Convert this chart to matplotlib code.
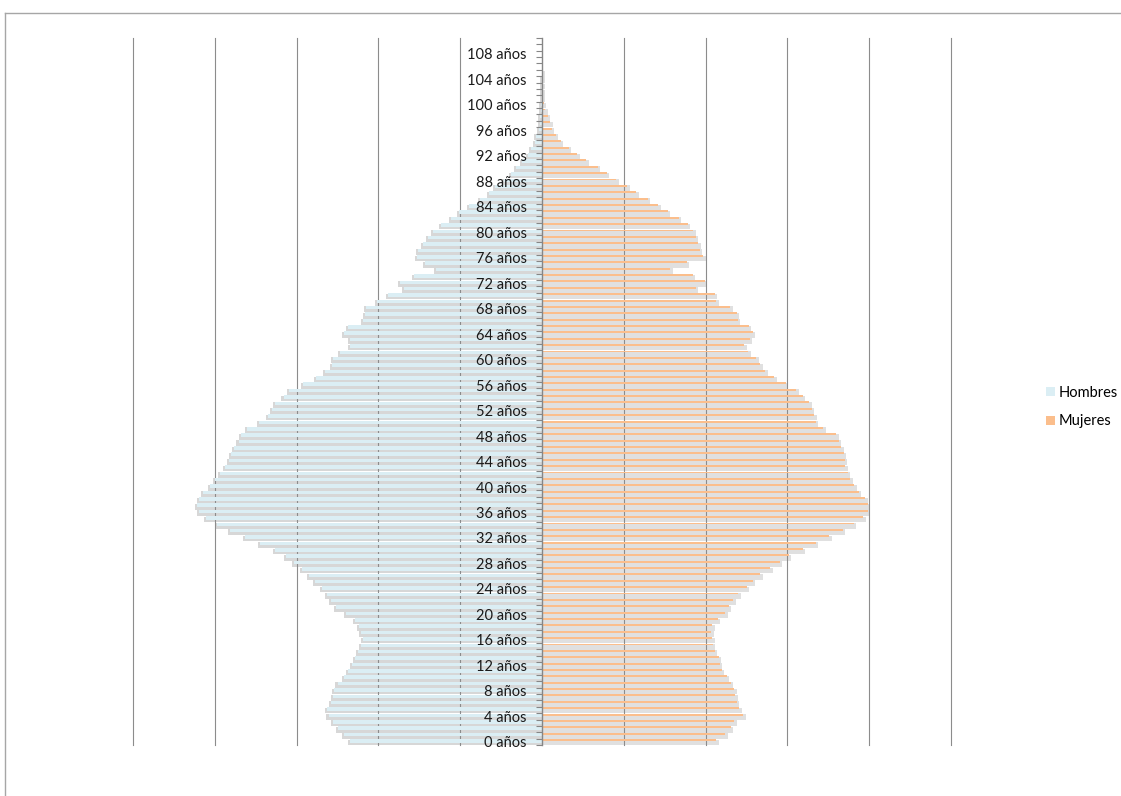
import numpy as np
import matplotlib
matplotlib.use("Agg")
import matplotlib.pyplot as plt
from matplotlib.patches import Patch
from matplotlib.lines import Line2D

# población por edad simple (miles)
edades = list(range(0, 111))
hombres = [235, 242, 249, 256, 261, 263, 258, 256, 254, 250,
           242, 237, 232, 229, 225, 221, 219, 221, 224, 229,
           240, 252, 258, 263, 269, 277, 285, 293, 303, 313,
           326, 345, 363, 381, 397, 411, 419, 422, 419, 414,
           406, 400, 394, 388, 383, 380, 376, 371, 368, 361,
           346, 335, 330, 326, 316, 309, 292, 276, 265, 257,
           256, 247, 235, 235, 242, 237, 219, 216, 215, 202,
           188, 169, 174, 156, 129, 143, 153, 151, 145, 139,
           133, 123, 111, 101, 89, 76, 65, 58, 46, 38,
           32, 24, 17, 13, 9, 7, 4, 3, 2, 1,
           1, 0.4, 0.2, 0.1, 0.1, 0, 0, 0, 0, 0, 0]
mujeres = [213, 224, 231, 235, 246, 241, 238, 236, 235, 231,
           226, 220, 217, 216, 211, 209, 208, 207, 208, 215,
           224, 228, 234, 240, 250, 258, 267, 279, 291, 302,
           319, 335, 351, 368, 381, 393, 398, 398, 395, 387,
           382, 377, 374, 371, 370, 369, 366, 363, 360, 344,
           335, 333, 330, 327, 319, 311, 298, 284, 273, 267,
           262, 252, 247, 254, 258, 253, 239, 238, 230, 213,
           211, 188, 199, 184, 157, 177, 197, 193, 191, 188,
           185, 178, 167, 154, 142, 129, 115, 104, 91, 79,
           68, 54, 43, 33, 23, 17, 12, 10, 7, 4,
           2, 1, 0.6, 0.3, 0.2, 0.1, 0, 0, 0, 0, 0]
etiquetas = [f"{a} años" for a in range(0, 109, 4)]

azul = "#DBEEF4"
naranja = "#FBBE8C"
sombra_h = "#D7D7D7"
sombra_m = "#E0E0E0"

plt.rcParams["font.family"] = ["Lato", "DejaVu Sans"]

fig = plt.figure(figsize=(11.21, 7.96), dpi=100)
ax = fig.add_axes([133 / 1121, 51 / 796, 818 / 1121, 707 / 796])

y = np.array(edades)
h = np.array(hombres)
m = np.array(mujeres)

# sombras
ax.barh(y - 0.1, -(h + np.where(h > 0, 2.5, 0)), height=0.9, color=sombra_h, zorder=1, linewidth=0)
ax.barh(y - 0.1, m + np.where(m > 0, 3, 0), height=0.9, color=sombra_m, zorder=1, linewidth=0)

# lineas de division
for xv in range(-500, 501, 100):
    if xv != 0:
        ax.axvline(xv, color="#8C8C8C", lw=0.8, zorder=2, clip_on=False)

# barras
ax.barh(y + 0.15, -h, height=0.55, color=azul, zorder=3, linewidth=0)
ax.barh(y + 0.28, m, height=0.3, color=naranja, zorder=3, linewidth=0)

ax.set_xlim(-500, 500)
ax.set_ylim(-0.5, 110.5)
ax.set_xticks([])

for s in ["top", "right", "bottom"]:
    ax.spines[s].set_visible(False)
ax.spines["left"].set_position(("data", 0))
ax.spines["left"].set_color("#868686")
ax.spines["left"].set_linewidth(1.0)
ax.spines["left"].set_zorder(5)
ax.yaxis.set_zorder(6)

ax.set_yticks(list(range(0, 109, 4)))
ax.set_yticklabels(etiquetas, fontsize=10.5, color="#1a1a1a")
ax.set_yticks(np.arange(-0.5, 111, 1), minor=True)
ax.tick_params(axis="y", which="major", length=0, pad=11)
ax.tick_params(axis="y", which="minor", length=4, width=0.8, color="#868686", direction="out")

# marco del grafico
fig.add_artist(Line2D([5 / 1121, 1], [783 / 796, 783 / 796], color="#A6A6A6", lw=1))
fig.add_artist(Line2D([5 / 1121, 5 / 1121], [0, 783 / 796], color="#A6A6A6", lw=1))

fig.legend(handles=[Patch(facecolor=azul), Patch(facecolor=naranja)],
           labels=["Hombres", "Mujeres"], loc="center left",
           bbox_to_anchor=(1046 / 1121, 389 / 796), frameon=False,
           borderpad=0, borderaxespad=0,
           handlelength=0.6, handleheight=0.6, handletextpad=0.3,
           labelspacing=1.0, fontsize=10.5)

fig.savefig("out.png", dpi=100)
